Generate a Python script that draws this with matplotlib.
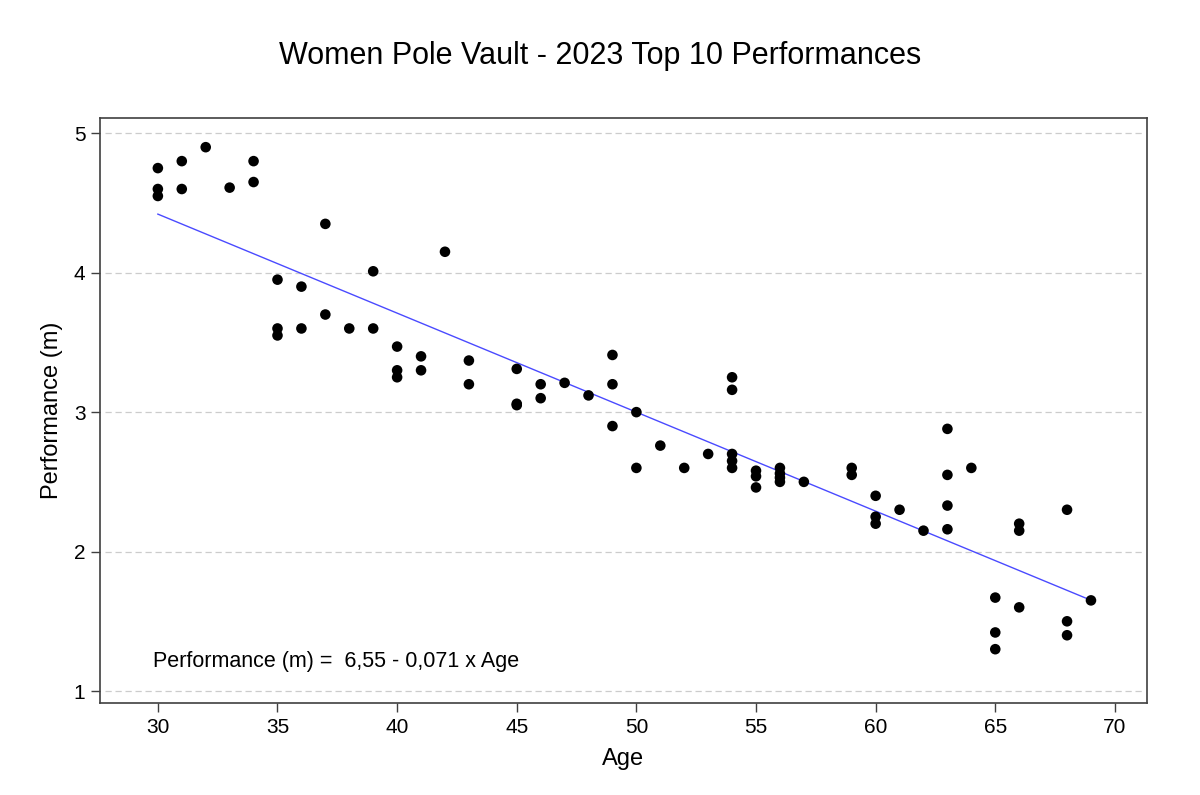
#!/usr/bin/env python3
"""
Women pole vault 2023 top-10 performances by age, with linear fit.
"""
import numpy as np
import matplotlib.pyplot as plt

plt.rcParams["font.family"] = ["Liberation Sans", "DejaVu Sans"]

# ── data ─────────────────────────────────────────────────────────────────────
ages = [30, 30, 30, 31, 31, 32, 33, 34, 34,
        35, 35, 35, 36, 36, 37, 37, 38, 39, 39,
        40, 40, 40, 41, 41, 42, 43, 43,
        45, 45, 45, 46, 46, 47, 48, 49, 49, 49,
        50, 50, 51, 52, 53, 54, 54, 54, 54, 54,
        55, 55, 55, 56, 56, 56, 56, 57, 59, 59,
        60, 60, 60, 61, 62, 63, 63, 63, 63, 64,
        65, 65, 65, 66, 66, 66, 68, 68, 68, 69]
perf = [4.75, 4.60, 4.55, 4.80, 4.60, 4.90, 4.61, 4.80, 4.65,
        3.95, 3.60, 3.55, 3.90, 3.60, 4.35, 3.70, 3.60, 4.01, 3.60,
        3.47, 3.30, 3.25, 3.40, 3.30, 4.15, 3.37, 3.20,
        3.31, 3.06, 3.05, 3.20, 3.10, 3.21, 3.12, 3.41, 3.20, 2.90,
        3.00, 2.60, 2.76, 2.60, 2.70, 3.25, 3.16, 2.70, 2.65, 2.60,
        2.58, 2.54, 2.46, 2.60, 2.56, 2.53, 2.50, 2.50, 2.60, 2.55,
        2.40, 2.25, 2.20, 2.30, 2.15, 2.88, 2.55, 2.33, 2.16, 2.60,
        1.67, 1.42, 1.30, 2.20, 2.15, 1.60, 2.30, 1.50, 1.40, 1.65]

INTERCEPT = 6.55
SLOPE = -0.071

x_ticks = [30, 35, 40, 45, 50, 55, 60, 65, 70]
y_ticks = [1, 2, 3, 4, 5]

# ── figure ───────────────────────────────────────────────────────────────────
fig = plt.figure(figsize=(12, 7.95), dpi=100)
ax = fig.add_axes([0.0833, 0.1157, 0.8725, 0.736])

ax.scatter(ages, perf, s=58, color="black", edgecolors="none", zorder=3)

fit_x = np.array([min(ages), max(ages)])
ax.plot(fit_x, INTERCEPT + SLOPE * fit_x, color="#4a4aff", lw=1.0, zorder=2)

ax.set_xlim(27.58, 71.34)
ax.set_ylim(0.914, 5.11)
ax.set_xticks(x_ticks)
ax.set_yticks(y_ticks)
ax.tick_params(direction="out", length=6.5, width=1.0, color="#404040",
               labelsize=15, pad=4)

for y in y_ticks:
    ax.axhline(y, xmin=0.005, xmax=0.995, color="#cccccc", lw=0.9,
               ls=(0, (5, 3)), zorder=1)

for sp in ax.spines.values():
    sp.set_color("#404040")
    sp.set_linewidth(1.2)

ax.set_xlabel("Age", fontsize=17, labelpad=8)
ax.set_ylabel("Performance (m)", fontsize=17, labelpad=8)
fig.suptitle("Women Pole Vault - 2023 Top 10 Performances",
             fontsize=22, y=0.948)

ax.text(29.8, 1.215, "Performance (m) =  6,55 - 0,071 x Age",
        fontsize=15.5, ha="left", va="center")

fig.savefig("out.png", dpi=100)
